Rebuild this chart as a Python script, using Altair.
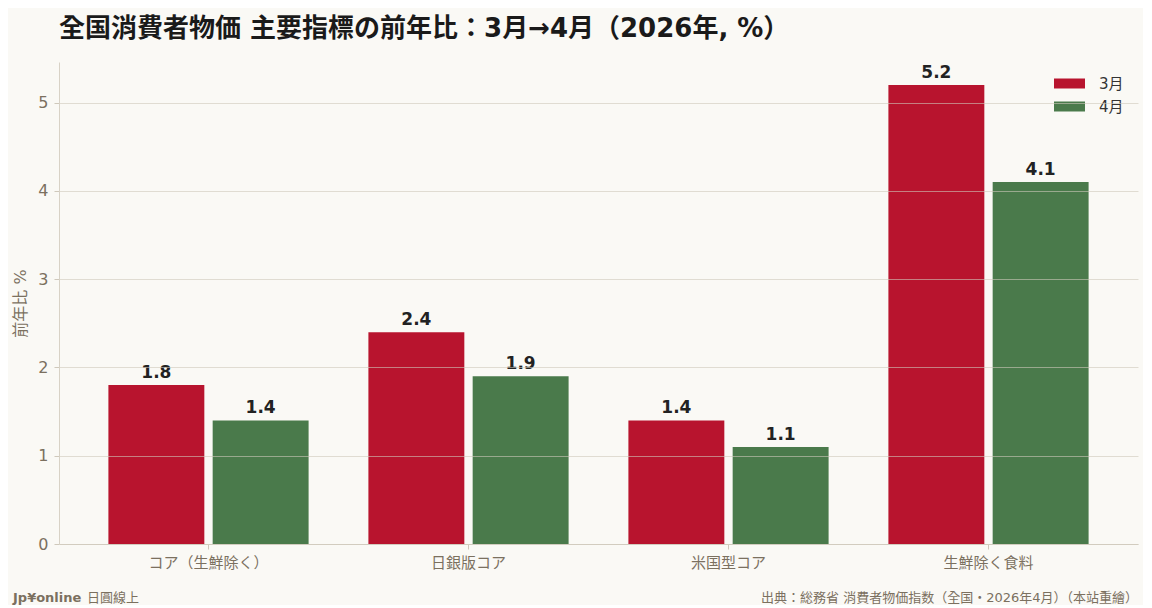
import pandas as pd
import altair as alt

# Values
categories = ["コア（生鮮除く）", "日銀版コア", "米国型コア", "生鮮除く食料"]
months = ["3月", "4月"]
march = [1.8, 2.4, 1.4, 5.2]
april = [1.4, 1.9, 1.1, 4.1]

colors = ["#B8142E", "#4A7A4B"]

df = pd.DataFrame({
    "指標": categories * 2,
    "月": [months[0]] * len(categories) + [months[1]] * len(categories),
    "前年比": march + april,
})

font = "DejaVu Sans, Noto Sans CJK TC"
axis_grey = "#7b705f"

x = alt.X("指標:N", sort=categories, title=None,
          scale=alt.Scale(paddingInner=0.23, paddingOuter=0.19),
          axis=alt.Axis(labelAngle=0, labelFontSize=15, labelColor=axis_grey,
                        labelPadding=6, tickSize=5, tickColor="#cfc8bb",
                        domainColor="#d8d2c6", grid=False))
x_off = alt.XOffset("月:N", sort=months, scale=alt.Scale(paddingInner=0.08))
y = alt.Y("前年比:Q", title="前年比 %",
          scale=alt.Scale(domain=[0, 5.46], nice=False),
          axis=alt.Axis(values=[0, 1, 2, 3, 4, 5], format="d",
                        labelFontSize=16, labelColor=axis_grey, labelPadding=6,
                        titleFontSize=16, titleColor=axis_grey,
                        titleFontWeight="normal", titlePadding=9,
                        tickSize=5, tickColor="#cfc8bb", domainColor="#d8d2c6",
                        gridColor="#cfc8bb", gridOpacity=0.6, zindex=1))

base = alt.Chart(df)

bars = base.mark_bar().encode(
    x=x, xOffset=x_off, y=y,
    color=alt.Color("月:N", sort=months,
                    scale=alt.Scale(domain=months, range=colors),
                    legend=alt.Legend(title=None, orient="top-right",
                                      offset=14, labelFontSize=15,
                                      labelColor="#333333", rowPadding=7,
                                      symbolType="M-3.1,-1H3.1V1H-3.1Z",
                                      symbolSize=100, symbolStrokeWidth=0,
                                      symbolOpacity=1, labelOffset=22)),
)

labels = base.mark_text(dy=-12, fontSize=17, fontWeight="bold",
                        color="#222222", font=font).encode(
    x=x, xOffset=x_off, y=y,
    text=alt.Text("前年比:Q", format=".1f"),
)

# Footer texts
brand = pd.DataFrame({"t": ["Jp¥online"]})
brand_sub = pd.DataFrame({"t": ["日圓線上"]})
source = pd.DataFrame({"t": ["出典：総務省 消費者物価指数（全国・2026年4月）（本站重繪）"]})

foot_brand = alt.Chart(brand).mark_text(
    align="left", fontSize=13, fontWeight="bold", color=axis_grey, font=font
).encode(x=alt.value(-46), y=alt.value(536), text="t:N")
foot_brand_sub = alt.Chart(brand_sub).mark_text(
    align="left", fontSize=13, color=axis_grey, font=font
).encode(x=alt.value(28), y=alt.value(536), text="t:N")
foot_source = alt.Chart(source).mark_text(
    align="right", fontSize=13, color=axis_grey, font=font
).encode(x=alt.value(1079), y=alt.value(536), text="t:N")

chart = alt.layer(bars, labels, foot_brand, foot_brand_sub, foot_source).properties(
    width=1079,
    height=482,
    padding={"left": 4, "top": 8, "right": 5, "bottom": 0},
    background="#FAF9F5",
    title=alt.TitleParams("全国消費者物価 主要指標の前年比：3月→4月（2026年, %）",
                          anchor="start", frame="group", fontSize=26,
                          fontWeight="bold", color="#1a1a1a", font=font,
                          offset=20),
).configure(font=font).configure_view(strokeWidth=0, stroke="transparent")

chart.save("out.html", embed_options={"renderer": "svg", "actions": False})
